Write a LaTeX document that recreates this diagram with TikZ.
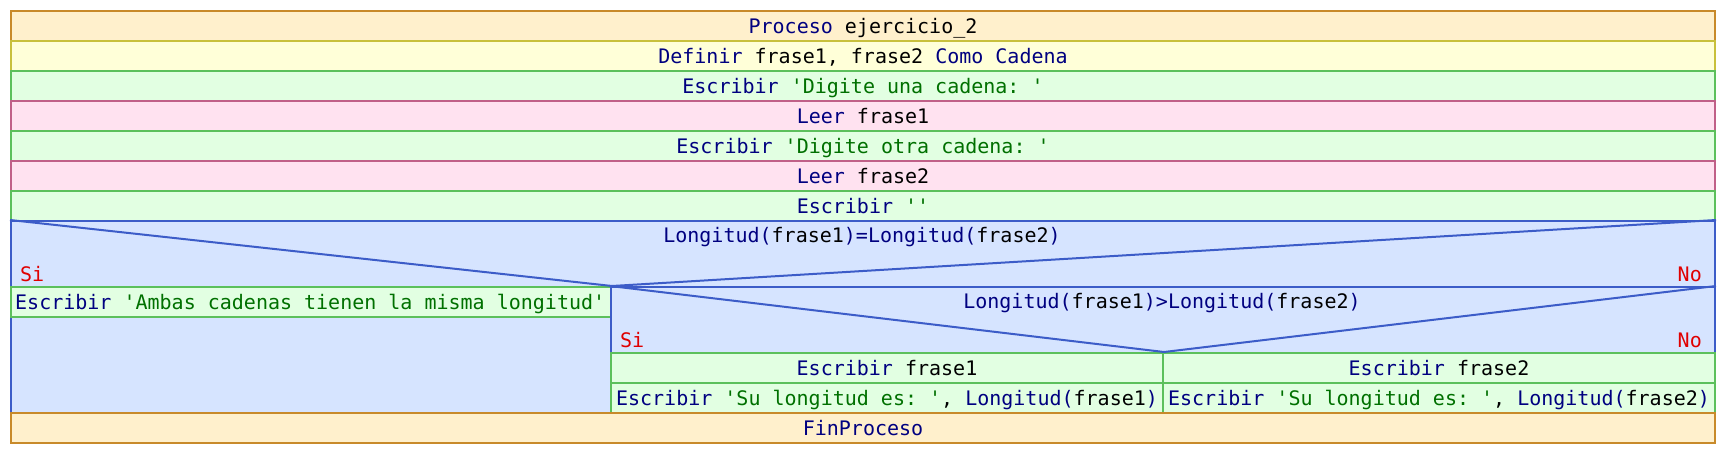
\documentclass[tikz,border=0pt]{standalone}
\usepackage{fontspec}
\setmonofont{DejaVu Sans Mono}
\definecolor{kwc}{HTML}{000080}
\definecolor{stc}{HTML}{007000}
\definecolor{sic}{HTML}{E00000}
\definecolor{procfill}{HTML}{FFF0CC}
\definecolor{procdraw}{HTML}{C88A2A}
\definecolor{deffill}{HTML}{FFFFD8}
\definecolor{defdraw}{HTML}{C8C03C}
\definecolor{escfill}{HTML}{E2FFE2}
\definecolor{escdraw}{HTML}{5CC05C}
\definecolor{leefill}{HTML}{FFE2F0}
\definecolor{leedraw}{HTML}{C06088}
\definecolor{decfill}{HTML}{D6E4FF}
\definecolor{decdraw}{HTML}{3C5CC8}
\newcommand\KW[1]{\textcolor{kwc}{#1}}
\newcommand\ST[1]{\textcolor{stc}{#1}}
\begin{document}
\begin{tikzpicture}[x=1pt,y=-1pt,
  txt/.style={font=\ttfamily\fontsize{20}{24}\selectfont, inner sep=0pt, text height=14.5pt, text depth=0pt},
  cell/.style={txt, draw, line width=2pt, anchor=north west, minimum height=30pt},
  proc/.style={cell, fill=procfill, draw=procdraw},
  defi/.style={cell, fill=deffill, draw=defdraw},
  escr/.style={cell, fill=escfill, draw=escdraw},
  leer/.style={cell, fill=leefill, draw=leedraw},
  dec/.style={draw=decdraw, fill=decfill, line width=2pt, inner sep=0pt, anchor=north west},
  diag/.style={draw=decdraw, line width=2pt},
  lbl/.style={font=\ttfamily\fontsize{20}{24}\selectfont, inner sep=0pt, text=sic}]
\useasboundingbox (0,0) rectangle (1724,452);
\node[proc, minimum width=1704pt] (p) at (10,10) {\KW{Proceso} ejercicio\_2};
\node[defi, minimum width=1704pt] (d) at (10,40) {\KW{Definir} frase1, frase2 \KW{Como Cadena}};
\node[escr, minimum width=1704pt] (e1) at (10,70) {\KW{Escribir} \ST{'Digite una cadena: '}};
\node[leer, minimum width=1704pt] (l1) at (10,100) {\KW{Leer} frase1};
\node[escr, minimum width=1704pt] (e2) at (10,130) {\KW{Escribir} \ST{'Digite otra cadena: '}};
\node[leer, minimum width=1704pt] (l2) at (10,160) {\KW{Leer} frase2};
\node[escr, minimum width=1704pt] (e3) at (10,190) {\KW{Escribir} \ST{''}};
% outer decision
\node[dec, minimum width=1704pt, minimum height=192pt] (d1) at (10,220) {};
\node[txt] (d1t) at (862,235) {\KW{Longitud(}frase1\KW{)=Longitud(}frase2\KW{)}};
% left branch
\node[escr, minimum width=600pt] (y1) at (10,286) {};
\node[txt, anchor=west] (y1t) at ([xshift=5pt]y1.west) {\KW{Escribir} \ST{'Ambas cadenas tienen la misma longitud'}};
% nested decision
\node[dec, minimum width=1104pt, minimum height=126pt] (d2) at (610,286) {};
\node[txt] (d2t) at (1162,301) {\KW{Longitud(}frase1\KW{)>Longitud(}frase2\KW{)}};
\node[escr, minimum width=552pt] (c1) at (610,352) {\KW{Escribir} frase1};
\node[escr, minimum width=552pt] (c2) at (610,382) {\KW{Escribir} \ST{'Su longitud es: '}, \KW{Longitud(}frase1\KW{)}};
\node[escr, minimum width=552pt] (c3) at (1162,352) {\KW{Escribir} frase2};
\node[escr, minimum width=552pt] (c4) at (1162,382) {\KW{Escribir} \ST{'Su longitud es: '}, \KW{Longitud(}frase2\KW{)}};
% diagonals
\draw[diag] (d1.north west) -- (y1.north east) -- (d1.north east);
\draw[diag] (d2.north west) -- (c1.north east) -- (d2.north east);
% labels
\node[lbl, anchor=base west] (s1) at (20,281) {Si};
\node[lbl, anchor=base east] (n1) at (1702,281) {No};
\node[lbl, anchor=base west] (s2) at (620,347) {Si};
\node[lbl, anchor=base east] (n2) at (1702,347) {No};
\node[proc, minimum width=1704pt] (f) at (10,412) {\KW{FinProceso}};
\end{tikzpicture}
\end{document}
